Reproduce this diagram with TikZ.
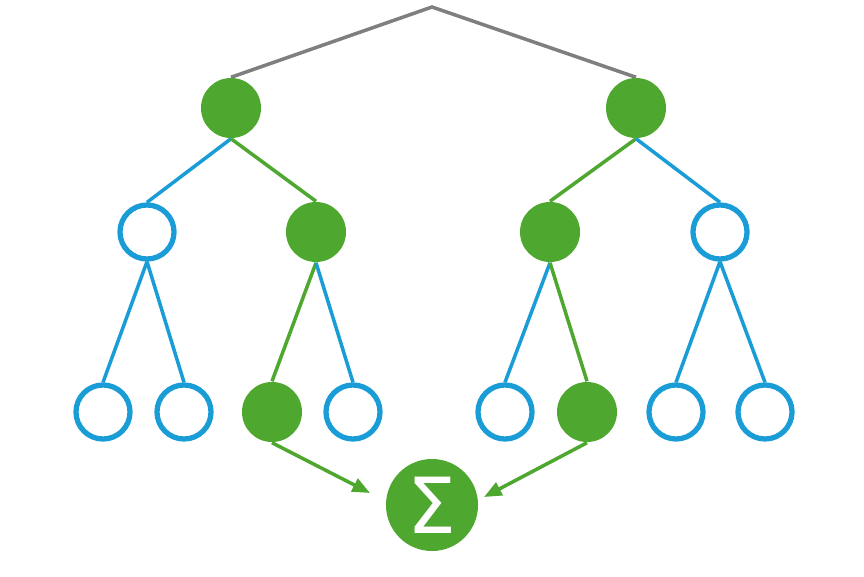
\documentclass[tikz,border=0pt]{standalone}
\usepackage{fontspec}
\newfontfamily\SigmaFont{DejaVu Sans}
\usetikzlibrary{arrows.meta}
\definecolor{TreeGreen}{HTML}{4EA72E}
\definecolor{TreeBlue}{HTML}{1A9DD6}
\definecolor{TreeGray}{HTML}{7F7F7F}
\begin{document}
\begin{tikzpicture}[x=0.01cm,y=-0.01cm,
  on/.style={circle,fill=TreeGreen,minimum size=0.6cm,inner sep=0pt},
  off/.style={circle,draw=TreeBlue,fill=white,line width=1.5pt,minimum size=0.54cm,inner sep=0pt},
  eon/.style={draw=TreeGreen,line width=1pt},
  eoff/.style={draw=TreeBlue,line width=1pt},
  sumarrow/.style={draw=TreeGreen,line width=1pt,-{Triangle[length=5pt,width=4pt]}}]

\useasboundingbox (0,0) rectangle (864,576);

%% tree levels
\coordinate (Root) at (432,7);
\node[on] (A) at (231,108) {};
\node[on] (B) at (636,108) {};

\node[off] (A1) at (147,232) {};
\node[on]  (A2) at (316,232) {};
\node[on]  (B1) at (550,232) {};
\node[off] (B2) at (720,232) {};

\node[off] (A11) at (103,412) {};
\node[off] (A12) at (184,412) {};
\node[on]  (A21) at (272,412) {};
\node[off] (A22) at (353,412) {};
\node[off] (B11) at (505,412) {};
\node[on]  (B12) at (587,412) {};
\node[off] (B21) at (676,412) {};
\node[off] (B22) at (765,412) {};

\node[circle,fill=TreeGreen,minimum size=0.92cm,inner sep=0pt,text=white] (Sum) at (432,505) {\SigmaFont\fontsize{22}{22}\selectfont Σ};
\coordinate (SumL) at (370,493);
\coordinate (SumR) at (484,497);

%% edges
\draw[TreeGray,line width=1pt] (A.north) -- (Root) -- (B.north);

\draw[eoff] (A.south) -- (A1.north);
\draw[eon]  (A.south) -- (A2.north);
\draw[eon]  (B.south) -- (B1.north);
\draw[eoff] (B.south) -- (B2.north);

\draw[eoff] (A1.south) -- (A11.north);
\draw[eoff] (A1.south) -- (A12.north);
\draw[eon]  (A2.south) -- (A21.north);
\draw[eoff] (A2.south) -- (A22.north);
\draw[eoff] (B1.south) -- (B11.north);
\draw[eon]  (B1.south) -- (B12.north);
\draw[eoff] (B2.south) -- (B21.north);
\draw[eoff] (B2.south) -- (B22.north);

\draw[sumarrow] (A21.south) -- (SumL);
\draw[sumarrow] (B12.south) -- (SumR);

\end{tikzpicture}
\end{document}
